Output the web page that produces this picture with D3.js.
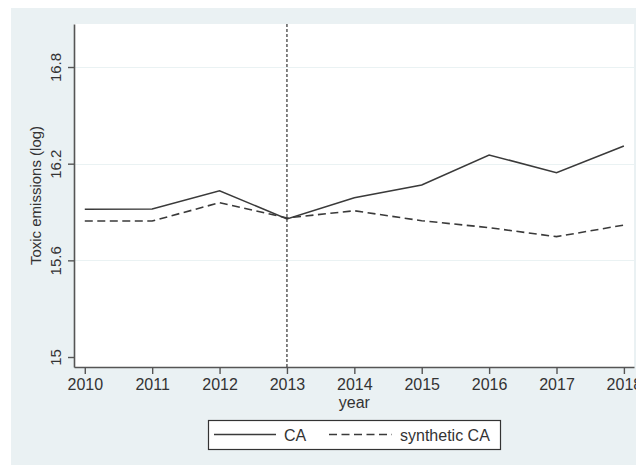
<!DOCTYPE html>
<html>
<head>
<meta charset="utf-8">
<script src="https://cdn.jsdelivr.net/npm/d3@7"></script>
<style>
  html, body { margin: 0; padding: 0; background: #ffffff; }
  svg { display: block; font-family: "Liberation Sans", Arial, sans-serif; }
</style>
</head>
<body>
<svg id="chart" width="636" height="466"></svg>
<script>
// Years on the x axis
const years = [2010, 2011, 2012, 2013, 2014, 2015, 2016, 2017, 2018];
// Log toxic emissions, California (observed)
const caValues = [15.917, 15.919, 16.032, 15.857, 15.989, 16.068, 16.254, 16.144, 16.310];
// Log toxic emissions, synthetic California
const synthValues = [15.844, 15.844, 15.958, 15.863, 15.908, 15.846, 15.803, 15.747, 15.819];
// Axis ticks
const yTicks = [15, 15.6, 16.2, 16.8];
const yTickLabels = ["15", "15.6", "16.2", "16.8"];
const treatmentYear = 2013;
const seriesNames = ["CA", "synthetic CA"];

const svg = d3.select("#chart");
const W = 636, H = 466;

// Graph region background
svg.append("rect").attr("x", 11).attr("y", 8).attr("width", W - 11).attr("height", H - 9)
  .attr("fill", "#eaf1f3");

const plot = { left: 74, top: 24, right: 634, bottom: 367 };
svg.append("rect").attr("x", plot.left).attr("y", plot.top)
  .attr("width", plot.right - plot.left).attr("height", plot.bottom - plot.top)
  .attr("fill", "#ffffff");

const x = d3.scaleLinear().domain([2009.84, 2018.15]).range([plot.left, plot.right]);
const y = d3.scaleLinear().domain([14.938, 17.067]).range([plot.bottom, plot.top]);

// Horizontal grid lines
svg.append("g").selectAll("line").data(yTicks.slice(1)).join("line")
  .attr("x1", plot.left).attr("x2", plot.right)
  .attr("y1", d => Math.round(y(d)) + 0.5).attr("y2", d => Math.round(y(d)) + 0.5)
  .attr("stroke", "#eaf2f3").attr("stroke-width", 1.2);

// Axes
const xAxis = d3.axisBottom(x).tickValues(years).tickFormat(d3.format("d"))
  .tickSizeInner(7).tickSizeOuter(0).tickPadding(5);
const gx = svg.append("g").attr("transform", `translate(0,${plot.bottom})`).call(xAxis);
gx.select(".domain").attr("stroke", "#555").attr("stroke-width", 1.6);
gx.selectAll(".tick line").attr("stroke", "#555").attr("stroke-width", 1.4);
gx.selectAll(".tick text").attr("fill", "#333").style("font-size", "16px");

const yAxis = d3.axisLeft(y).tickValues(yTicks).tickFormat((d, i) => yTickLabels[i])
  .tickSizeInner(6).tickSizeOuter(0).tickPadding(4);
const gy = svg.append("g").attr("transform", `translate(${plot.left},0)`).call(yAxis);
gy.select(".domain").attr("stroke", "#555").attr("stroke-width", 1.6);
gy.selectAll(".tick line").attr("stroke", "#555").attr("stroke-width", 1.4);
gy.selectAll(".tick text")
  .attr("fill", "#333").style("font-size", "15px")
  .attr("text-anchor", "middle").attr("dy", null).attr("x", null)
  .attr("transform", "translate(-13,0) rotate(-90)")
  .attr("dominant-baseline", "auto").attr("y", 0);

// Axis titles
svg.append("text").attr("x", x(2014)).attr("y", 408).attr("text-anchor", "middle")
  .attr("fill", "#333").style("font-size", "16px").text("year");
svg.append("text").attr("transform", `translate(41,${(plot.top + plot.bottom) / 2}) rotate(-90)`)
  .attr("text-anchor", "middle").attr("fill", "#333").style("font-size", "15px")
  .text("Toxic emissions (log)");

// Treatment year marker
svg.append("line").attr("x1", x(treatmentYear)).attr("x2", x(treatmentYear))
  .attr("y1", plot.top).attr("y2", plot.bottom)
  .attr("stroke", "#333").attr("stroke-width", 1.2).attr("stroke-dasharray", "3,2");

// Series lines
const line = d3.line().x((d, i) => x(years[i])).y(d => y(d));
svg.append("path").datum(caValues).attr("d", line)
  .attr("fill", "none").attr("stroke", "#3a3a3a").attr("stroke-width", 1.6);
svg.append("path").datum(synthValues).attr("d", line)
  .attr("fill", "none").attr("stroke", "#3a3a3a").attr("stroke-width", 1.6)
  .attr("stroke-dasharray", "8,4.5");

// Legend
const lg = svg.append("g");
lg.append("rect").attr("x", 208.5).attr("y", 420.5).attr("width", 292).attr("height", 29)
  .attr("fill", "#ffffff").attr("stroke", "#333").attr("stroke-width", 1.2);
lg.append("line").attr("x1", 214).attr("x2", 276).attr("y1", 434.5).attr("y2", 434.5)
  .attr("stroke", "#3a3a3a").attr("stroke-width", 1.6);
lg.append("text").attr("x", 284).attr("y", 441).attr("fill", "#333")
  .style("font-size", "16px").text(seriesNames[0]);
lg.append("line").attr("x1", 329).attr("x2", 392).attr("y1", 434.5).attr("y2", 434.5)
  .attr("stroke", "#3a3a3a").attr("stroke-width", 1.6).attr("stroke-dasharray", "8,4.5");
lg.append("text").attr("x", 400).attr("y", 441).attr("fill", "#333")
  .style("font-size", "16px").text(seriesNames[1]);
</script>
</body>
</html>
